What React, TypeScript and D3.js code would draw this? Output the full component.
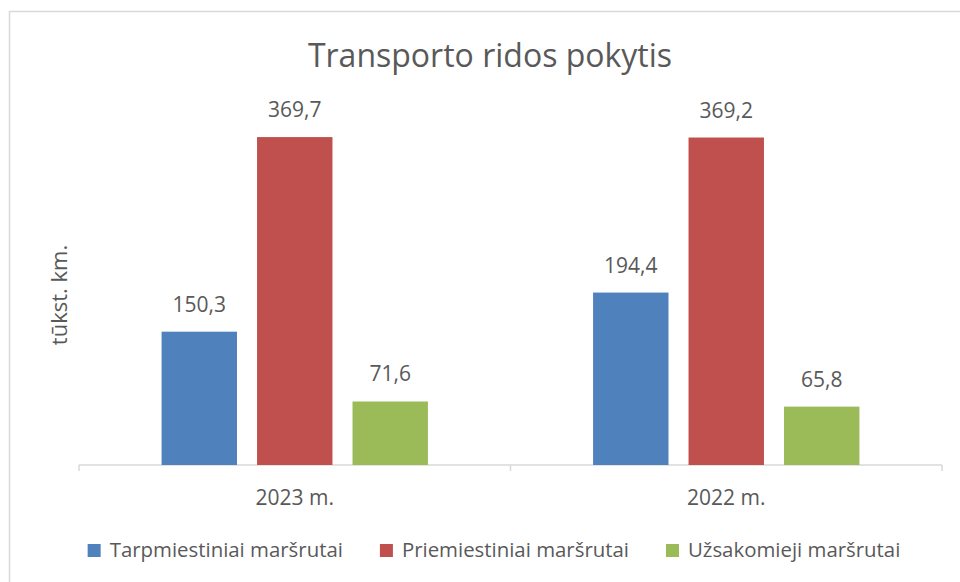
import React, { useEffect, useRef } from "react";
import * as d3 from "d3";

const categories = ["2023 m.", "2022 m."];
const seriesNames = [
  "Tarpmiestiniai maršrutai",
  "Priemiestiniai maršrutai",
  "Užsakomieji maršrutai",
];
const tarpmiestiniai = [150.3, 194.4];
const priemiestiniai = [369.7, 369.2];
const uzsakomieji = [71.6, 65.8];
const colors = ["#4f81bd", "#c0504d", "#9bbb59"];

const FONT = "'Open Sans', 'Noto Sans', sans-serif";
const TEXT = "#595959";

const App = () => {
  const ref = useRef<SVGSVGElement>(null);

  useEffect(() => {
    const svg = d3.select(ref.current);
    svg.selectAll("*").remove();

    const seriesValues = [tarpmiestiniai, priemiestiniai, uzsakomieji];
    const fmt = (v: number) => v.toFixed(1).replace(".", ",");

    // chart frame
    svg
      .append("rect")
      .attr("x", 9.5)
      .attr("y", 11.5)
      .attr("width", 980)
      .attr("height", 600)
      .attr("fill", "white")
      .attr("stroke", "#d9d9d9")
      .attr("stroke-width", 1.5);

    const left = 79;
    const right = 942;
    const baseline = 465;

    const x0 = d3.scaleBand().domain(categories).range([left, right]).padding(0);
    const x1 = d3
      .scaleBand()
      .domain(seriesNames)
      .range([0, x0.bandwidth()])
      .paddingInner(0.21)
      .paddingOuter(0.865);
    const y = d3.scaleLinear().domain([0, 400]).range([baseline, 110.2]);

    svg
      .append("text")
      .attr("x", 490)
      .attr("y", 67)
      .attr("text-anchor", "middle")
      .style("font-family", FONT)
      .style("font-size", "32px")
      .attr("fill", TEXT)
      .text("Transporto ridos pokytis");

    svg
      .append("text")
      .attr("transform", `translate(67,295) rotate(-90)`)
      .attr("text-anchor", "middle")
      .style("font-family", FONT)
      .style("font-size", "22px")
      .attr("fill", TEXT)
      .text("tūkst. km.");

    // axis
    const axis = svg.append("g").attr("transform", `translate(0,${baseline})`);
    axis
      .append("line")
      .attr("x1", left)
      .attr("x2", right)
      .attr("stroke", "#d9d9d9")
      .attr("stroke-width", 1.5);
    const ticks = [left, ...categories.map((c) => (x0(c) as number) + x0.bandwidth())];
    axis
      .selectAll("line.tick")
      .data(ticks)
      .enter()
      .append("line")
      .attr("class", "tick")
      .attr("x1", (d) => d)
      .attr("x2", (d) => d)
      .attr("y1", 0)
      .attr("y2", 6)
      .attr("stroke", "#d9d9d9")
      .attr("stroke-width", 1.5);
    axis
      .selectAll("text")
      .data(categories)
      .enter()
      .append("text")
      .attr("x", (d) => (x0(d) as number) + x0.bandwidth() / 2)
      .attr("y", 40)
      .attr("text-anchor", "middle")
      .style("font-family", FONT)
      .style("font-size", "21px")
      .attr("fill", TEXT)
      .text((d) => d);

    // bars
    seriesNames.forEach((name, si) => {
      const g = svg.append("g");
      const vals = seriesValues[si];
      g.selectAll("rect")
        .data(vals)
        .enter()
        .append("rect")
        .attr("x", (d, i) => (x0(categories[i]) as number) + (x1(name) as number))
        .attr("y", (d) => y(d))
        .attr("width", x1.bandwidth())
        .attr("height", (d) => baseline - y(d))
        .attr("fill", colors[si]);
      g.selectAll("text")
        .data(vals)
        .enter()
        .append("text")
        .attr(
          "x",
          (d, i) => (x0(categories[i]) as number) + (x1(name) as number) + x1.bandwidth() / 2
        )
        .attr("y", (d) => y(d) - 20)
        .attr("text-anchor", "middle")
        .style("font-family", FONT)
        .style("font-size", "21px")
        .attr("fill", TEXT)
        .text((d) => fmt(d));
    });

    // legend
    const legend = svg.append("g");
    const items = legend
      .selectAll("g")
      .data(seriesNames)
      .enter()
      .append("g");
    items
      .append("rect")
      .attr("width", 13)
      .attr("height", 13)
      .attr("y", -13)
      .attr("fill", (d, i) => colors[i]);
    items
      .append("text")
      .attr("x", 22)
      .attr("y", 0)
      .style("font-family", FONT)
      .style("font-size", "20.4px")
      .attr("fill", TEXT)
      .text((d) => d);
    const widths: number[] = [];
    items.each(function () {
      const t = d3.select(this).select("text").node() as SVGTextElement;
      widths.push(22 + t.getComputedTextLength());
    });
    const gap = 37;
    const total = d3.sum(widths) + gap * (widths.length - 1);
    let cx = 494 - total / 2;
    items.attr("transform", (d, i) => {
      const tx = cx;
      cx += widths[i] + gap;
      return `translate(${tx},557)`;
    });
  }, []);

  return (
    <svg
      ref={ref}
      width={960}
      height={582}
      style={{ position: "absolute", left: 0, top: 0, background: "white" }}
    />
  );
};

export default App;
